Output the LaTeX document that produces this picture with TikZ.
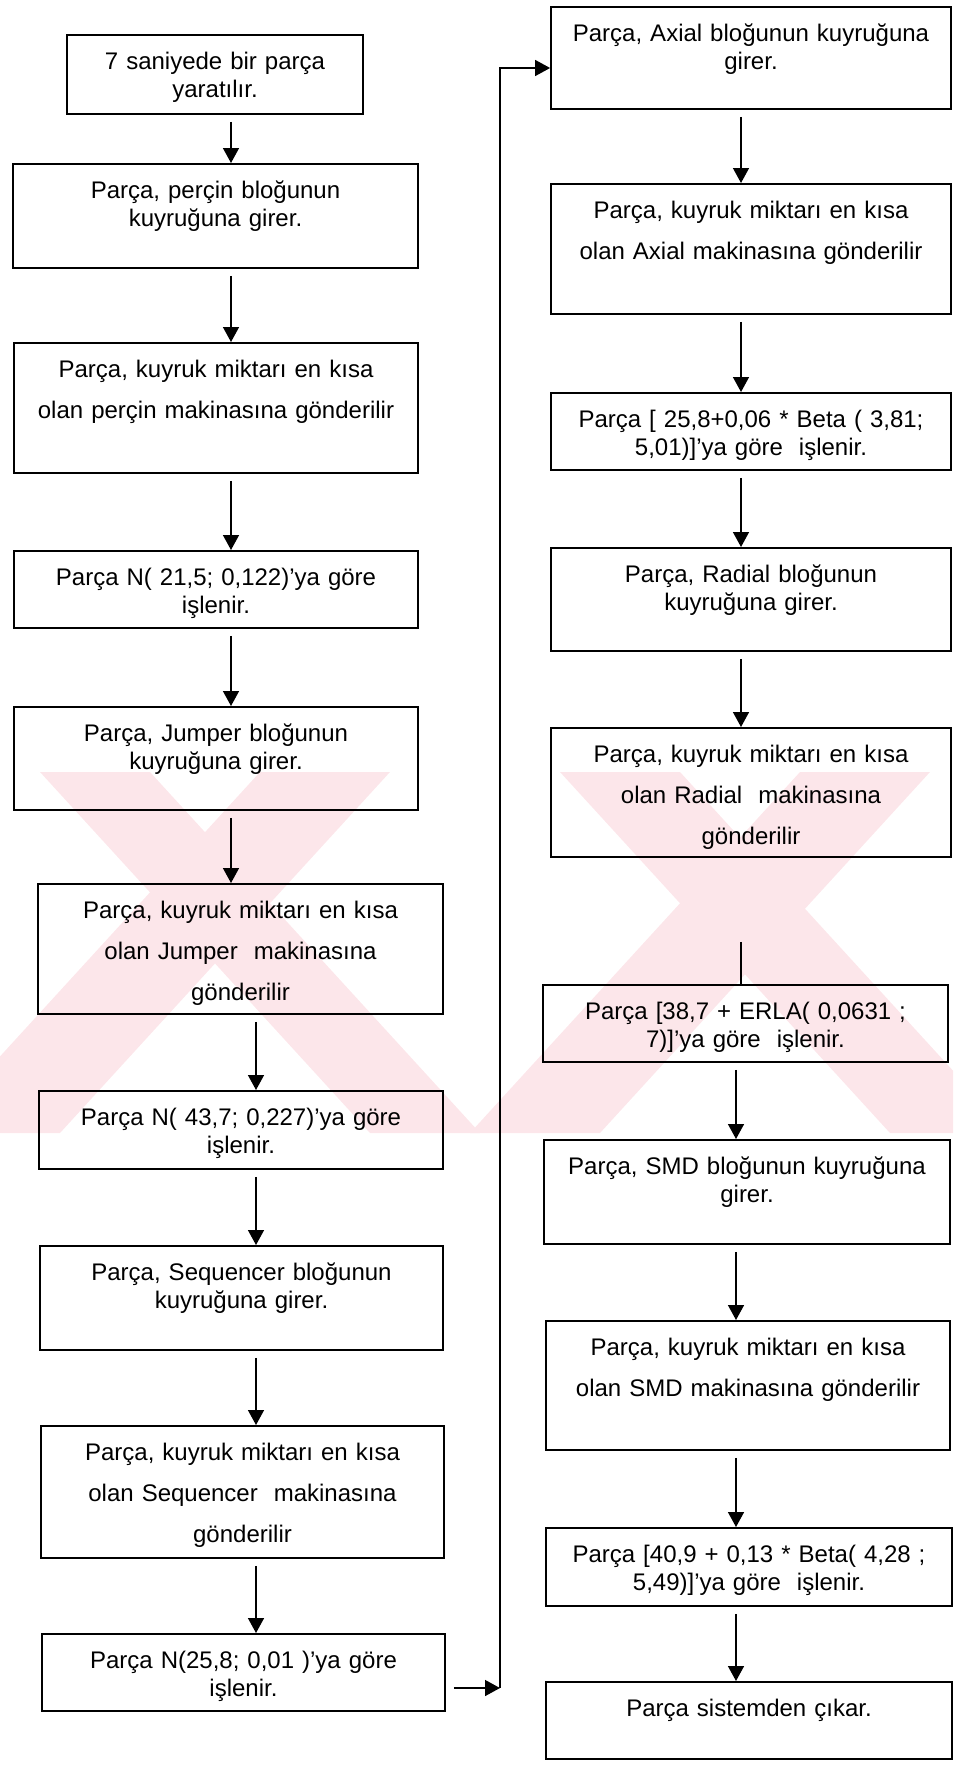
\documentclass[tikz,border=0pt]{standalone}
\usepackage{fontspec}
\setmainfont{Liberation Sans}
\usetikzlibrary{arrows.meta}

\definecolor{wmpink}{RGB}{252,230,234}

\tikzset{
  box/.style={draw, line width=1.8pt, inner sep=0pt, anchor=north, align=center,
    text height=35pt, font=\fontsize{24}{28}\selectfont},
  wide/.style={font=\fontsize{24}{41}\selectfont},
  arr/.style={-{Triangle[length=15pt,width=16pt]}, line width=1.5pt, shorten <=7pt},
}

\begin{document}
\begin{tikzpicture}[x=1pt, y=-1pt]
  \useasboundingbox (0,0) rectangle (953,1782);

  % faint watermark band
  \begin{scope}
    \clip (0,772) rectangle (953,1133);
    \fill[wmpink] (40,772) -- (150,772) -- (480,1133) -- (370,1133) -- cycle;
    \fill[wmpink] (260,772) -- (390,772) -- (60,1133) -- (-70,1133) -- cycle;
    \fill[wmpink] (560,772) -- (680,772) -- (1010,1133) -- (890,1133) -- cycle;
    \fill[wmpink] (800,772) -- (930,772) -- (600,1133) -- (470,1133) -- cycle;
  \end{scope}

  % left column
  \node[box, text width=296pt, text depth=44pt] (b1) at (215,34) {7 saniyede bir parça\\yaratılır.};
  \node[box, text width=405pt, text depth=69pt] (b2) at (215.5,163) {Parça, perçin bloğunun\\kuyruğuna girer.};
  \node[box, wide, text width=404pt, text depth=95pt] (b3) at (216,342) {Parça, kuyruk miktarı en kısa\\olan perçin makinasına gönderilir};
  \node[box, text width=404pt, text depth=42pt] (b4) at (216,550) {Parça N( 21,5; 0,122)’ya göre\\işlenir.};
  \node[box, text width=404pt, text depth=68pt] (b5) at (216,706) {Parça, Jumper bloğunun\\kuyruğuna girer.};
  \node[box, wide, text width=405pt, text depth=95pt] (b6) at (240.5,883) {Parça, kuyruk miktarı en kısa\\olan Jumper\ \ makinasına\\gönderilir};
  \node[box, text width=404pt, text depth=43pt] (b7) at (241,1090) {Parça N( 43,7; 0,227)’ya göre\\işlenir.};
  \node[box, text width=403pt, text depth=69pt] (b8) at (241.5,1245) {Parça, Sequencer bloğunun\\kuyruğuna girer.};
  \node[box, wide, text width=403pt, text depth=97pt] (b9) at (242.5,1425) {Parça, kuyruk miktarı en kısa\\olan Sequencer\ \ makinasına\\gönderilir};
  \node[box, text width=403pt, text depth=42pt] (b10) at (243.5,1633) {Parça N(25,8; 0,01 )’ya göre\\işlenir.};

  % right column
  \node[box, text width=400pt, text depth=67pt] (a1) at (751,6) {Parça, Axial bloğunun kuyruğuna\\girer.};
  \node[box, wide, text width=400pt, text depth=95pt] (a2) at (751,183) {Parça, kuyruk miktarı en kısa\\olan Axial makinasına gönderilir};
  \node[box, text width=400pt, text depth=42pt] (a3) at (751,392) {Parça [ 25,8+0,06 * Beta ( 3,81;\\5,01)]’ya göre\ \ işlenir.};
  \node[box, text width=400pt, text depth=68pt] (a4) at (751,547) {Parça, Radial bloğunun\\kuyruğuna girer.};
  \node[box, wide, text width=400pt, text depth=94pt] (a5) at (751,727) {Parça, kuyruk miktarı en kısa\\olan Radial\ \ makinasına\\gönderilir};
  \node[box, text width=405pt, text depth=42pt] (a6) at (745.5,984) {Parça [38,7 + ERLA( 0,0631 ;\\7)]’ya göre\ \ işlenir.};
  \node[box, text width=406pt, text depth=69pt] (a7) at (747,1139) {Parça, SMD bloğunun kuyruğuna\\girer.};
  \node[box, wide, text width=404pt, text depth=94pt] (a8) at (748,1320) {Parça, kuyruk miktarı en kısa\\olan SMD makinasına gönderilir};
  \node[box, text width=406pt, text depth=43pt] (a9) at (749,1527) {Parça [40,9 + 0,13 * Beta( 4,28 ;\\5,49)]’ya göre\ \ işlenir.};
  \node[box, text width=406pt, text depth=42pt] (a10) at (749,1681) {Parça sistemden çıkar.};

  % arrow columns
  \coordinate (cL1) at (231,0);
  \coordinate (cL2) at (256,0);
  \coordinate (cR1) at (741,0);
  \coordinate (cR2) at (736,0);

  \foreach \s/\t/\c in {b1/b2/cL1, b2/b3/cL1, b3/b4/cL1, b4/b5/cL1, b5/b6/cL1,
                        b6/b7/cL2, b7/b8/cL2, b8/b9/cL2, b9/b10/cL2,
                        a1/a2/cR1, a2/a3/cR1, a3/a4/cR1, a4/a5/cR1,
                        a6/a7/cR2, a7/a8/cR2, a8/a9/cR2, a9/a10/cR2}
    \draw[arr] (\s.south -| \c) -- (\t.north -| \c);

  % Radial machine -> ERLA, plain line with a gap
  \draw[line width=1.5pt, shorten <=84pt] (a5.south -| cR1) -- (a6.north -| cR1);

  % feedback from left column to right column
  \coordinate (fbBot) at (500,1688);
  \coordinate (fbTop) at (500,68);
  \draw[arr, shorten <=8pt] (b10.east |- fbBot) -- (fbBot);
  \draw[arr, shorten <=0pt] (fbBot) -- (fbTop) -- (a1.west |- fbTop);
\end{tikzpicture}
\end{document}
